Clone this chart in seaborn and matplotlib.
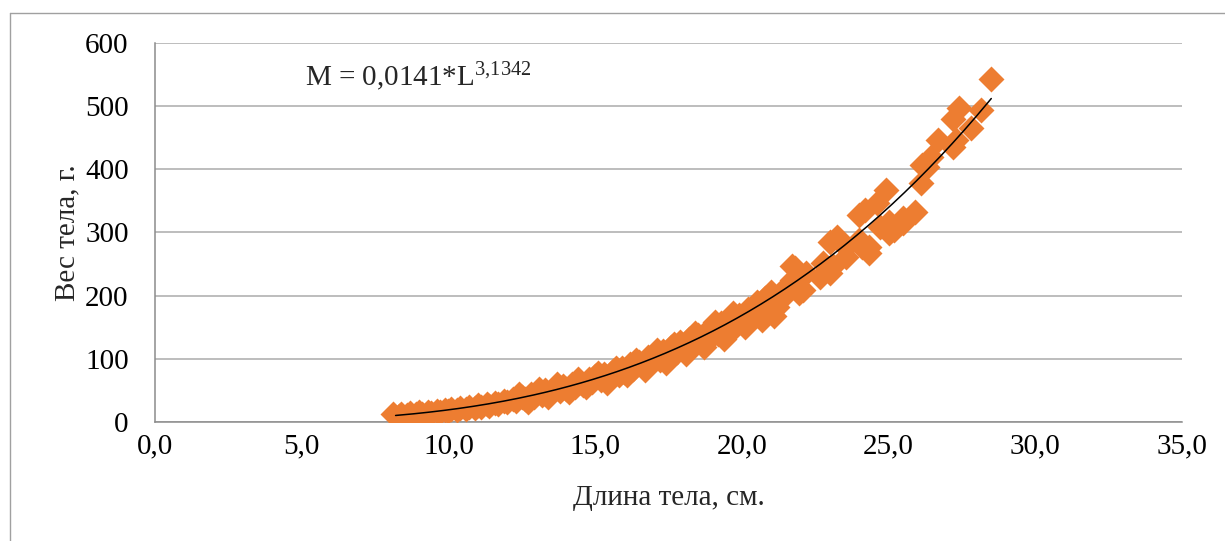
import numpy as np
import pandas as pd
import matplotlib
matplotlib.use("Agg")
import matplotlib.pyplot as plt
from matplotlib.lines import Line2D
import seaborn as sns

# длина тела (см) и вес (г)
length_cm = [
    8.1, 8.3, 8.4, 8.6, 8.7, 8.9, 9.0, 9.1, 9.3, 9.4, 9.6, 9.7, 9.9, 10.0,
    10.1, 10.3, 10.4, 10.6, 10.7, 10.9, 11.0, 11.1, 11.3, 11.4, 11.6, 11.7,
    11.9, 12.0, 12.2, 12.3, 12.5, 12.6, 12.8, 12.9, 13.0, 13.2, 13.3, 13.5,
    13.6, 13.8, 13.9, 14.0, 14.2, 14.3, 14.5, 14.6, 14.8, 14.9, 15.0, 15.2,
    15.3, 15.5, 15.6, 15.8, 15.9, 16.0, 16.2, 16.3, 16.5, 16.6, 16.8, 16.9,
    17.0, 17.2, 17.3, 17.5, 17.6, 17.8, 17.9, 18.0, 18.2, 18.3, 18.5, 18.6,
    18.8, 18.9, 19.0, 19.2, 19.3, 19.5, 19.6, 19.8, 19.9, 20.0, 20.2, 20.3,
    20.5, 20.6, 20.8, 20.9,
    12.4, 12.7, 13.1, 13.4, 13.7, 14.1, 14.4, 14.7, 15.1, 15.4, 15.7, 16.1,
    16.4, 16.7, 17.1, 17.4, 17.7, 18.1, 18.4, 18.7, 19.1, 19.4, 19.7, 20.1,
    20.4, 20.7, 21.0, 21.1,
    21.2, 21.4, 21.5, 21.7, 21.7, 21.8, 21.95, 22.07, 22.2, 22.65, 22.75,
    23.0, 23.0, 23.1, 23.25, 23.3, 23.55, 23.55, 24.0, 24.0, 24.1, 24.2,
    24.35, 24.35, 24.6, 24.7, 24.9, 25.0, 25.0, 25.2, 25.5, 25.5, 25.9,
    26.1, 26.15, 26.3, 26.45, 26.7, 27.2, 27.2, 27.3, 27.4, 27.8, 28.15, 28.5,
]
weight_g = [
    12, 10, 13, 11, 14, 12, 15, 13, 16, 14, 17, 15, 19, 17,
    21, 19, 22, 20, 24, 22, 27, 24, 29, 26, 30, 28,
    33, 31, 36, 33, 40, 36, 44, 40, 46, 43, 50, 46,
    53, 49, 57, 52, 60, 55, 63, 59, 68, 63, 72, 66,
    76, 70, 80, 75, 86, 79, 91, 84, 95, 88, 102, 93,
    108, 98, 112, 104, 118, 110, 126, 115, 131, 120, 137, 126,
    144, 133, 150, 139, 156, 146, 163, 152, 170, 160, 178, 166,
    190, 172, 196, 180,
    44, 32, 52, 40, 60, 47, 68, 55, 78, 62, 86, 74,
    98, 82, 114, 94, 124, 108, 140, 118, 158, 132, 172, 150,
    184, 162, 205, 168,
    182, 198, 214, 224, 246, 243, 204, 208, 235, 230, 251,
    235, 285, 246, 293, 288, 261, 277, 288, 327, 277, 335,
    267, 277, 346, 309, 367, 299, 317, 304, 314, 322, 332,
    378, 406, 404, 419, 446, 435, 480, 446, 497, 465, 493, 543,
]

# степенная линия тренда из подписи на графике
coef_a = 0.0141
coef_b = 3.1342
trend_from, trend_to = 8.2, 28.5

x_ticks = [0, 5, 10, 15, 20, 25, 30, 35]
x_tick_labels = ["0,0", "5,0", "10,0", "15,0", "20,0", "25,0", "30,0", "35,0"]
y_ticks = [0, 100, 200, 300, 400, 500, 600]

df = pd.DataFrame({"L": length_cm, "M": weight_g})
trend_L = np.linspace(trend_from, trend_to, 200)
trend = pd.DataFrame({"L": trend_L, "M": coef_a * trend_L ** coef_b})

sns.set_theme(style="white")
plt.rcParams["font.family"] = ["Liberation Serif", "DejaVu Serif"]
plt.rcParams["mathtext.fontset"] = "custom"
plt.rcParams["mathtext.rm"] = "Liberation Serif"
plt.rcParams["mathtext.default"] = "regular"

fig = plt.figure(figsize=(12.25, 5.41), dpi=100)
ax = fig.add_axes([0.1265, 0.22, 0.8384, 0.7011])

sns.scatterplot(data=df, x="L", y="M", marker="D", s=175, color="#ED7D31",
                linewidth=0, ax=ax, zorder=3)
sns.lineplot(data=trend, x="L", y="M", color="black", linewidth=1.1,
             ax=ax, zorder=4)

ax.set_xlim(0, 35)
ax.set_ylim(0, 600)
ax.set_xticks(x_ticks)
ax.set_xticklabels(x_tick_labels)
ax.set_yticks(y_ticks)
ax.tick_params(axis="both", length=0, labelsize=21, colors="black")
ax.tick_params(axis="y", pad=19)
ax.tick_params(axis="x", pad=8)

ax.yaxis.grid(True, color="#ababab", linewidth=1.1)
ax.xaxis.grid(False)
for side in ["top", "right"]:
    ax.spines[side].set_visible(False)
for side in ["left", "bottom"]:
    ax.spines[side].set_color("#8c8c8c")
    ax.spines[side].set_linewidth(1.1)

ax.set_xlabel("Длина тела, см.", fontsize=21)
ax.set_ylabel("Вес тела, г.", fontsize=21)
ax.xaxis.set_label_coords(0.5, -0.165)
ax.yaxis.set_label_coords(-0.073, 0.5)

ax.text(0.146, 0.886, r"M = 0,0141*L$^{3{,}1342}$", transform=ax.transAxes,
        fontsize=21, va="baseline", ha="left")

# рамка области диаграммы
fig.add_artist(Line2D([0.0082, 1.0], [0.976, 0.976], color="#a0a0a0", linewidth=1))
fig.add_artist(Line2D([0.0082, 0.0082], [0.0, 0.976], color="#a0a0a0", linewidth=1))

fig.savefig("out.png", dpi=100)
